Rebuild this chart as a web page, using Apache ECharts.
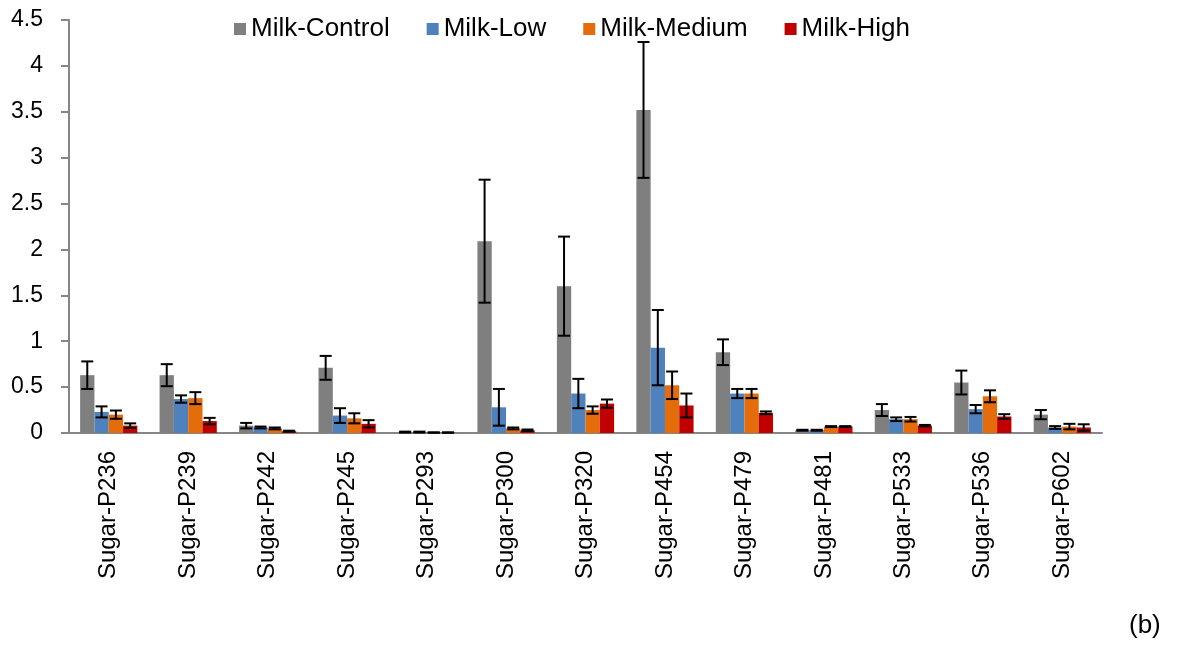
<!DOCTYPE html>
<html>
<head>
    <meta charset="utf-8">
    <title>Sugar peaks</title>
    <script type="text/javascript" src="https://cdn.jsdelivr.net/npm/echarts@6/dist/echarts.min.js"></script>
    <style>
        html, body { margin: 0; padding: 0; background: #fff; }
    </style>
</head>
<body>
    <div id="main" style="width: 1180px;height:648px;"></div>
    <script type="text/javascript">
        // categories and values
        var categories = ['Sugar-P236', 'Sugar-P239', 'Sugar-P242', 'Sugar-P245', 'Sugar-P293', 'Sugar-P300',
            'Sugar-P320', 'Sugar-P454', 'Sugar-P479', 'Sugar-P481', 'Sugar-P533', 'Sugar-P536', 'Sugar-P602'];
        var seriesNames = ['Milk-Control', 'Milk-Low', 'Milk-Medium', 'Milk-High'];

        var control = [0.63, 0.63, 0.08, 0.71, 0.01, 2.09, 1.60, 3.52, 0.88, 0.03, 0.25, 0.55, 0.20];
        var controlErr = [0.15, 0.12, 0.03, 0.13, 0.005, 0.67, 0.54, 0.74, 0.14, 0.005, 0.065, 0.13, 0.05];
        var low = [0.23, 0.37, 0.06, 0.19, 0.01, 0.28, 0.43, 0.93, 0.43, 0.03, 0.15, 0.26, 0.06];
        var lowErr = [0.06, 0.04, 0.01, 0.08, 0.005, 0.2, 0.16, 0.41, 0.05, 0.005, 0.02, 0.045, 0.015];
        var medium = [0.20, 0.38, 0.05, 0.16, 0.005, 0.05, 0.25, 0.52, 0.43, 0.07, 0.15, 0.40, 0.07];
        var mediumErr = [0.045, 0.065, 0.01, 0.055, 0.002, 0.01, 0.04, 0.15, 0.05, 0.005, 0.025, 0.065, 0.03];
        var high = [0.08, 0.13, 0.02, 0.10, 0.005, 0.03, 0.32, 0.30, 0.22, 0.07, 0.08, 0.18, 0.06];
        var highErr = [0.025, 0.035, 0.005, 0.04, 0.002, 0.008, 0.045, 0.13, 0.015, 0.005, 0.008, 0.025, 0.035];

        var values = [control, low, medium, high];
        var errors = [controlErr, lowErr, mediumErr, highErr];
        var colors = ['#7f7f7f', '#4f81bd', '#e46c0a', '#c00000'];

        var font = 'Liberation Sans, Arial, sans-serif';
        var catGap = 0.28;

        var myChart = echarts.init(document.getElementById('main'));

        var series = [];
        for (var i = 0; i < 4; i++) {
            series.push({
                name: seriesNames[i],
                type: 'bar',
                barGap: '0%',
                barCategoryGap: (catGap * 100) + '%',
                itemStyle: { color: colors[i] },
                data: values[i]
            });
        }
        // error bars, one custom series per group
        for (var k = 0; k < 4; k++) {
            (function (k) {
                var d = [];
                for (var j = 0; j < categories.length; j++) {
                    d.push([j, values[k][j] - errors[k][j], values[k][j] + errors[k][j]]);
                }
                series.push({
                    type: 'custom',
                    z: 5,
                    silent: true,
                    encode: { x: 0, y: [1, 2] },
                    renderItem: function (params, api) {
                        var idx = api.value(0);
                        var bw = api.size([1, 0])[0];
                        var barW = bw * (1 - catGap) / 4;
                        var cx = api.coord([idx, 0])[0] + (k - 1.5) * barW;
                        var yTop = api.coord([idx, api.value(2)])[1];
                        var yBot = api.coord([idx, api.value(1)])[1];
                        var half = 6;
                        var st = { stroke: '#000', lineWidth: 2 };
                        return {
                            type: 'group',
                            children: [
                                { type: 'line', shape: { x1: cx, y1: yTop, x2: cx, y2: yBot }, style: st },
                                { type: 'line', shape: { x1: cx - half, y1: yTop, x2: cx + half, y2: yTop }, style: st },
                                { type: 'line', shape: { x1: cx - half, y1: yBot, x2: cx + half, y2: yBot }, style: st }
                            ]
                        };
                    },
                    data: d
                });
            })(k);
        }

        myChart.setOption({
            animation: false,
            textStyle: { fontFamily: font },
            legend: {
                data: seriesNames,
                left: 229,
                top: 11,
                icon: 'rect',
                itemWidth: 12,
                itemHeight: 12,
                itemGap: 37,
                textStyle: { fontSize: 26, color: '#000', fontFamily: font }
            },
            grid: { left: 69, right: 78, top: 20, bottom: 215 },
            xAxis: {
                type: 'category',
                data: categories,
                axisLine: { lineStyle: { color: '#868686', width: 2 } },
                axisTick: { length: 8, lineStyle: { color: '#868686', width: 2 } },
                axisLabel: { rotate: 90, margin: 18, fontSize: 24, color: '#000', fontFamily: font, interval: 0 }
            },
            yAxis: {
                type: 'value',
                min: 0,
                max: 4.5,
                interval: 0.5,
                splitLine: { show: false },
                axisLine: { show: true, lineStyle: { color: '#868686', width: 2 } },
                axisTick: { show: true, length: 8, lineStyle: { color: '#868686', width: 2 } },
                axisLabel: { margin: 26, fontSize: 23, color: '#000', fontFamily: font }
            },
            graphic: [{
                type: 'text',
                left: 1129,
                top: 613,
                style: { text: '(b)', fontSize: 26, fill: '#000', fontFamily: font }
            }],
            series: series
        });
    </script>
</body>
</html>
